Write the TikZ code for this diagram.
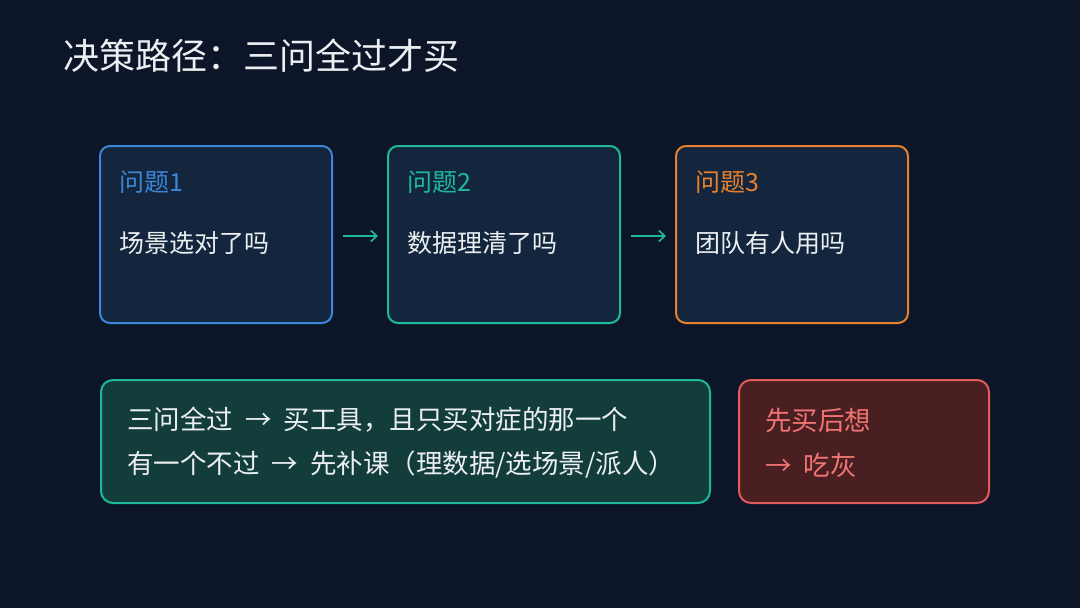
\documentclass[tikz,border=0pt]{standalone}
\usepackage{fontspec}
\setmainfont{Noto Sans CJK SC}
\usetikzlibrary{arrows.meta}
\definecolor{bg}{HTML}{0C1628}
\definecolor{cardfill}{HTML}{13263D}
\definecolor{cblue}{HTML}{3B87D6}
\definecolor{cteal}{HTML}{1DB99B}
\definecolor{corange}{HTML}{E8812C}
\definecolor{tealfill}{HTML}{133D3B}
\definecolor{redfill}{HTML}{4A1F22}
\definecolor{cred}{HTML}{E35A5A}
\definecolor{redtext}{HTML}{F07474}
\definecolor{bodytext}{HTML}{ECEFF2}
\newcommand{\arr}{\hspace{0.45em}→\hspace{0.45em}}
\begin{document}
\begin{tikzpicture}[x=1pt,y=-1pt,
  card/.style={draw, line width=2pt, rounded corners=10pt, fill=cardfill},
  headtxt/.style={anchor=west, font=\fontsize{25}{30}\selectfont},
  bodytxt/.style={anchor=west, text=bodytext, font=\fontsize{25}{30}\selectfont},
  lowtxt/.style={anchor=west, text=bodytext, font=\fontsize{26.5}{32}\selectfont},
  flow/.style={draw=cteal, line width=1.6pt, -{Straight Barb[length=6pt,width=11pt]}}]
\fill[bg] (0,0) rectangle (1080,608);
\useasboundingbox (0,0) rectangle (1080,608);
\node[anchor=west, text=bodytext, font=\fontsize{36}{42}\selectfont, inner sep=0pt] (title) at (63,56) {决策路径：三问全过才买};
% cards
\draw[card, draw=cblue] (100,146) rectangle (332,323);
\draw[card, draw=cteal] (388,146) rectangle (620,323);
\draw[card, draw=corange] (676,146) rectangle (908,323);
\node[headtxt, text=cblue, inner sep=0pt] (h1) at (119,182) {问题1};
\node[bodytxt, inner sep=0pt] (b1) at (119,243) {场景选对了吗};
\node[headtxt, text=cteal, inner sep=0pt] (h2) at (407,182) {问题2};
\node[bodytxt, inner sep=0pt] (b2) at (407,243) {数据理清了吗};
\node[headtxt, text=corange, inner sep=0pt] (h3) at (695,182) {问题3};
\node[bodytxt, inner sep=0pt] (b3) at (695,243) {团队有人用吗};
\coordinate (a1s) at (343,236);
\coordinate (a1e) at (378,236);
\coordinate (a2s) at (631,236);
\coordinate (a2e) at (666,236);
\draw[flow] (a1s) -- (a1e);
\draw[flow] (a2s) -- (a2e);
% bottom boxes
\draw[draw=cteal, line width=2pt, rounded corners=12pt, fill=tealfill] (101,380) rectangle (710,503);
\draw[draw=cred, line width=2pt, rounded corners=12pt, fill=redfill] (739,380) rectangle (989,503);
\node[lowtxt, inner sep=0pt] (l1) at (127,420) {三问全过\arr 买工具，且只买对症的那一个};
\node[lowtxt, inner sep=0pt] (l2) at (127,465) {有一个不过\arr 先补课（理数据/选场景/派人）};
\node[lowtxt, text=redtext, inner sep=0pt] (r1) at (765,420) {先买后想};
\node[lowtxt, text=redtext, inner sep=0pt] (r2) at (765,465) {→\hspace{0.45em}吃灰};
\end{tikzpicture}
\end{document}
